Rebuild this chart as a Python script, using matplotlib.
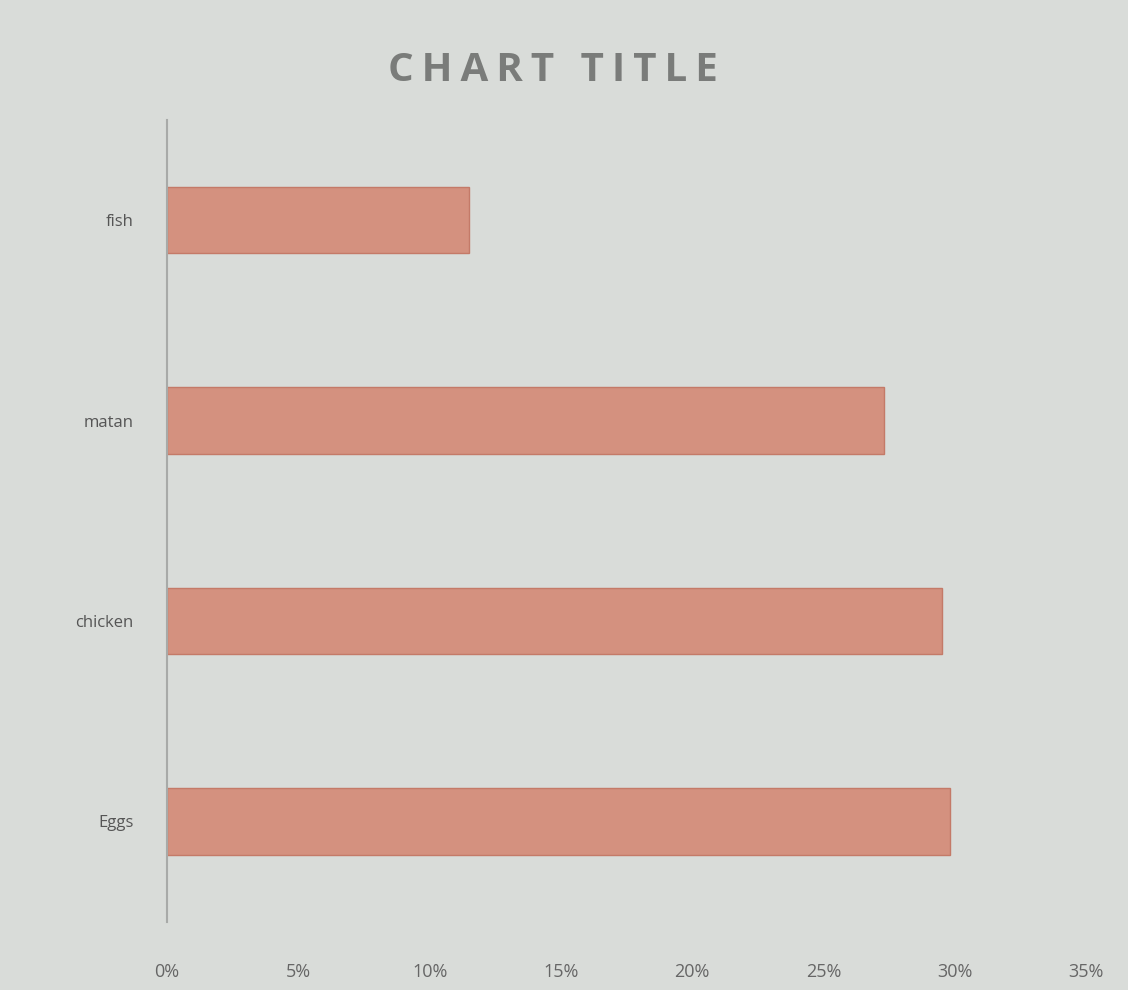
import numpy as np
import matplotlib.pyplot as plt
from matplotlib.ticker import PercentFormatter

# Dados (de cima para baixo)
categorias = ['fish', 'matan', 'chicken', 'Eggs']
valores = [0.115, 0.273, 0.295, 0.298]
ticks_x = [0, 0.05, 0.10, 0.15, 0.20, 0.25, 0.30, 0.35]

plt.rcParams['font.family'] = ['Open Sans', 'DejaVu Sans']

fig = plt.figure(figsize=(11.28, 9.9), dpi=100, facecolor='#d9dcd9')
ax = fig.add_axes([0.148, 0.069, 0.815, 0.81], facecolor='#d9dcd9')

pos = np.arange(len(categorias))
ax.barh(pos, valores, height=0.33, color='#d4917f', edgecolor='#c47a68', linewidth=1)

ax.set_ylim(len(categorias) - 0.5, -0.5)
ax.set_yticks(pos)
ax.set_yticklabels(categorias, fontsize=12, color='#555555')
ax.set_xlim(0, 0.35)
ax.set_xticks(ticks_x)
ax.xaxis.set_major_formatter(PercentFormatter(1.0, decimals=0))
ax.tick_params(axis='x', length=0, pad=30, labelsize=13, labelcolor='#666666')
ax.tick_params(axis='y', length=0, pad=24)

for lado in ['top', 'right', 'bottom']:
    ax.spines[lado].set_visible(False)
ax.spines['left'].set_color('#a8aaa8')
ax.spines['left'].set_linewidth(1.5)

titulo = '\u2009'.join('CHART TITLE')
fig.text(0.49, 0.929, titulo, ha='center', va='center',
         fontsize=29, fontweight='bold', color='#7a7c7a')

fig.savefig('out.png', dpi=100, facecolor=fig.get_facecolor())
